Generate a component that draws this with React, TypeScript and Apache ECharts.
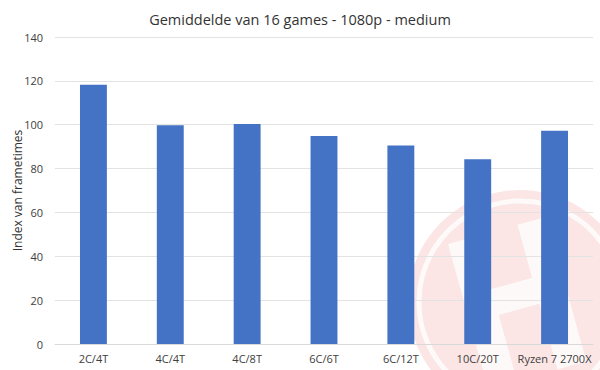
import React, { useEffect, useRef } from "react";
import * as echarts from "echarts";

const categories = ["2C/4T", "4C/4T", "4C/8T", "6C/6T", "6C/12T", "10C/20T", "Ryzen 7 2700X"];
const values = [118.2, 99.8, 100.3, 94.8, 90.5, 84.3, 97.2];
const titleText = "Gemiddelde van 16 games - 1080p - medium";
const yAxisName = "Index van frametimes";

const hPoints: number[][] = [
  [0, 0], [30, 0], [30, 55], [72, 55], [72, 0], [102, 0], [102, 150],
  [72, 150], [72, 82], [30, 82], [30, 150], [0, 150],
];

export default function App() {
  const ref = useRef<HTMLDivElement>(null);
  useEffect(() => {
    if (!ref.current) return;
    document.body.style.margin = "0";
    const chart = echarts.init(ref.current, undefined, { renderer: "svg" });
    const font = "'Open Sans', 'Noto Sans', sans-serif";
    chart.setOption({
      animation: false,
      backgroundColor: "#ffffff",
      textStyle: { fontFamily: font },
      title: {
        text: titleText,
        left: "center",
        top: 7,
        textStyle: { fontSize: 14.5, fontWeight: "normal", color: "#333333", fontFamily: font },
      },
      grid: { left: 55, right: 7, top: 37, bottom: 26, outerBoundsMode: "none", containLabel: false },
      xAxis: {
        type: "category",
        data: categories,
        axisLine: { show: true, lineStyle: { color: "#d9d9d9" } },
        axisTick: { show: false },
        axisLabel: { color: "#404040", fontSize: 11, margin: 9, interval: 0, fontFamily: font },
      },
      yAxis: {
        type: "value",
        min: 0,
        max: 140,
        interval: 20,
        name: yAxisName,
        nameLocation: "middle",
        nameGap: 32,
        nameMoveOverlap: false,
        nameTextStyle: { color: "#333333", fontSize: 12, fontFamily: font },
        axisLine: { show: false },
        axisTick: { show: false },
        axisLabel: { color: "#404040", fontSize: 11, margin: 12, fontFamily: font },
        splitLine: { lineStyle: { color: "#e3e3e3" } },
      },
      series: [
        {
          type: "bar",
          data: values,
          barWidth: "35%",
          itemStyle: { color: "#4472C4" },
        },
      ],
      graphic: [
        {
          type: "group",
          z: 100,
          silent: true,
          children: [
            {
              type: "circle",
              shape: { cx: 520, cy: 302, r: 112 },
              style: { fill: "rgba(225,70,70,0.14)" },
            },
            {
              type: "circle",
              shape: { cx: 520, cy: 302, r: 101 },
              style: { fill: "none", stroke: "rgba(255,255,255,0.8)", lineWidth: 5 },
            },
            {
              type: "polygon",
              x: 448,
              y: 244,
              rotation: 0.27,
              shape: { points: hPoints },
              style: { fill: "rgba(255,255,255,0.75)" },
            },
          ],
        },
      ],
    });
    return () => chart.dispose();
  }, []);
  return <div ref={ref} style={{ width: 600, height: 370 }} />;
}
